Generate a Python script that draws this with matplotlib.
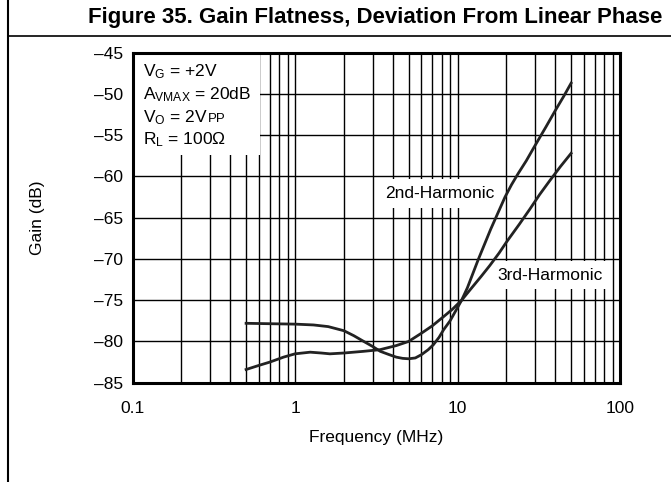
import matplotlib
matplotlib.use('Agg')
import matplotlib.pyplot as plt
from matplotlib.patches import Rectangle
from matplotlib.lines import Line2D

plt.rcParams['font.family'] = ['Liberation Sans', 'DejaVu Sans']
plt.rcParams['mathtext.fontset'] = 'custom'
plt.rcParams['mathtext.rm'] = 'Liberation Sans'
plt.rcParams['mathtext.it'] = 'Liberation Sans'

# Daten (Frequenz in MHz, Gain in dB)
freq_2nd = [0.5, 0.7, 1.0, 1.3, 1.6, 2.0, 2.3, 2.65, 3.0, 3.35, 3.8, 4.2, 4.6, 5.0,
            5.5, 6.0, 6.6, 7.1, 7.7, 8.2, 9.0, 10.0, 10.6, 11.5, 13.4, 16, 19.6,
            21.5, 23.7, 26.5, 29.3, 35, 40, 45, 50]
gain_2nd = [-77.8, -77.85, -77.9, -78.0, -78.2, -78.7, -79.3, -80.0, -80.6, -81.2,
            -81.6, -81.9, -82.05, -82.1, -82.0, -81.6, -81.0, -80.4, -79.5, -78.6,
            -77.5, -75.9, -75.0, -73.5, -70.1, -66.4, -62.5, -61.0, -59.6, -58.1,
            -56.6, -54.0, -52.0, -50.3, -48.7]

freq_3rd = [0.5, 0.6, 0.7, 0.85, 1.0, 1.24, 1.45, 1.64, 2.0, 2.63, 3.33, 4.2, 5.0,
            6.0, 7.0, 8.2, 9.3, 10.6, 12, 14, 15.8, 18, 20.1, 24, 27.9, 32, 37, 43, 50]
gain_3rd = [-83.4, -82.9, -82.5, -81.9, -81.5, -81.3, -81.4, -81.5, -81.4, -81.2,
            -81.0, -80.5, -80.0, -79.0, -78.1, -77.0, -76.1, -75.0, -73.7, -72.1,
            -70.8, -69.3, -67.9, -65.8, -63.95, -62.2, -60.5, -58.8, -57.2]

x_ticks = [0.1, 1, 10, 100]
x_ticklabels = ['0.1', '1', '10', '100']
y_ticks = [-85, -80, -75, -70, -65, -60, -55, -50, -45]
y_ticklabels = ['–85', '–80', '–75', '–70', '–65', '–60', '–55', '–50', '–45']

fig = plt.figure(figsize=(6.71, 4.82), dpi=100)
ax = fig.add_axes([0.1975, 0.206, 0.7265, 0.6847])

ax.plot(freq_2nd, gain_2nd, color='#222222', lw=2, zorder=3)
ax.plot(freq_3rd, gain_3rd, color='#222222', lw=2, zorder=3)

ax.set_xscale('log')
ax.set_xlim(0.1, 100)
ax.set_ylim(-85, -45)
ax.set_xticks(x_ticks)
ax.set_xticklabels(x_ticklabels)
ax.set_yticks(y_ticks)
ax.set_yticklabels(y_ticklabels)
ax.set_xticks([m * d for d in [0.1, 1, 10] for m in range(2, 10)], minor=True)
ax.tick_params(which='both', length=0, labelsize=12.5)
ax.tick_params(axis='x', pad=13)
ax.tick_params(axis='y', pad=7)
ax.grid(True, which='both', axis='x', color='black', lw=1)
ax.grid(True, which='major', axis='y', color='black', lw=1)
ax.set_axisbelow(True)
for s in ax.spines.values():
    s.set_linewidth(2.2)

ax.set_xlabel('Frequency (MHz)', fontsize=12.5, labelpad=10)
ax.set_ylabel('Gain (dB)', fontsize=12.5, labelpad=35)

# Kasten mit Messbedingungen
ax.add_patch(Rectangle((0, 0.69), 0.2615, 0.31, transform=ax.transAxes,
                       facecolor='white', edgecolor='none', zorder=1))
tx = 0.0215
ax.text(tx, 0.9415, r'$\mathrm{V_G}$ = +2V', transform=ax.transAxes, fontsize=12.5, va='center', zorder=4)
ax.text(tx, 0.872, r'$\mathrm{A_{VMAX}}$ = 20dB', transform=ax.transAxes, fontsize=12.5, va='center', zorder=4)
t = ax.text(tx, 0.8021, r'$\mathrm{V_O}$ = 2V', transform=ax.transAxes, fontsize=12.5, va='center', zorder=4)
ax.annotate('PP', xy=(1, 0.12), xycoords=t, fontsize=9.5, va='bottom', ha='left', zorder=4)
ax.text(tx, 0.7355, r'$\mathrm{R_L}$ = 100Ω', transform=ax.transAxes, fontsize=12.5, va='center', zorder=4)

box = dict(facecolor='white', edgecolor='none', pad=5)
ax.text(7.8, -62.1, '2nd-Harmonic', fontsize=12.5, ha='center', va='center', bbox=box, zorder=2)
ax.text(37, -71.95, '3rd-Harmonic', fontsize=12.5, ha='center', va='center', bbox=box, zorder=2)

# Rahmen und Titel
fig.add_artist(Line2D([7.5 / 671, 7.5 / 671], [0, 1], transform=fig.transFigure, color='black', lw=1.5))
fig.add_artist(Line2D([7.5 / 671, 1], [1 - 36 / 482, 1 - 36 / 482], transform=fig.transFigure, color='black', lw=1.2))
fig.text(662 / 671, 1 - 17 / 482, 'Figure 35. Gain Flatness, Deviation From Linear Phase',
         fontsize=16, fontweight='bold', ha='right', va='center')

fig.savefig('out.png', dpi=100)
